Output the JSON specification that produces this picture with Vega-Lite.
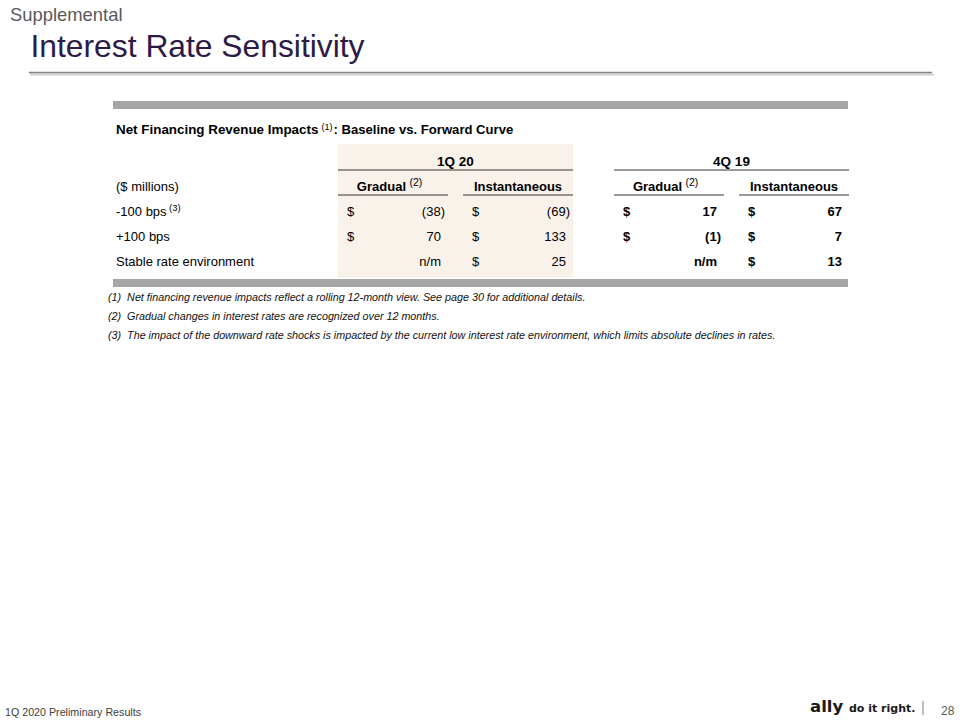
{
  "$schema": "https://vega.github.io/schema/vega-lite/v6.json",
  "width": 960,
  "height": 720,
  "padding": 0,
  "autosize": {"type": "none"},
  "background": "#ffffff",
  "config": {
    "view": {"stroke": null},
    "font": "Liberation Sans",
    "text": {"font": "Liberation Sans", "color": "#000000"}
  },
  "datasets": {
    "periods": [
      {"line": "period", "period": "1Q 20"},
      {"line": "period", "period": "4Q 19"}
    ],
    "columns": [
      {"line": "scenario", "period": "1Q 20", "scenario": "Gradual", "header": "Gradual", "note": "(2)"},
      {"line": "scenario", "period": "1Q 20", "scenario": "Instantaneous", "header": "Instantaneous", "note": null},
      {"line": "scenario", "period": "4Q 19", "scenario": "Gradual", "header": "Gradual", "note": "(2)"},
      {"line": "scenario", "period": "4Q 19", "scenario": "Instantaneous", "header": "Instantaneous", "note": null}
    ],
    "cells": [
      {"line": "-100 bps", "period": "1Q 20", "scenario": "Gradual", "value": -38},
      {"line": "-100 bps", "period": "1Q 20", "scenario": "Instantaneous", "value": -69},
      {"line": "-100 bps", "period": "4Q 19", "scenario": "Gradual", "value": 17},
      {"line": "-100 bps", "period": "4Q 19", "scenario": "Instantaneous", "value": 67},
      {"line": "+100 bps", "period": "1Q 20", "scenario": "Gradual", "value": 70},
      {"line": "+100 bps", "period": "1Q 20", "scenario": "Instantaneous", "value": 133},
      {"line": "+100 bps", "period": "4Q 19", "scenario": "Gradual", "value": -1},
      {"line": "+100 bps", "period": "4Q 19", "scenario": "Instantaneous", "value": 7},
      {"line": "Stable rate environment", "period": "1Q 20", "scenario": "Gradual", "value": null},
      {"line": "Stable rate environment", "period": "1Q 20", "scenario": "Instantaneous", "value": 25},
      {"line": "Stable rate environment", "period": "4Q 19", "scenario": "Gradual", "value": null},
      {"line": "Stable rate environment", "period": "4Q 19", "scenario": "Instantaneous", "value": 13}
    ],
    "rowLabels": [
      {"line": "scenario", "label": "($ millions)", "note": null},
      {"line": "-100 bps", "label": "-100 bps", "note": "(3)"},
      {"line": "+100 bps", "label": "+100 bps", "note": null},
      {"line": "Stable rate environment", "label": "Stable rate environment", "note": null}
    ],
    "tableTitle": [
      {"part": "table title", "lead": "Net Financing Revenue Impacts", "note": "(1)", "rest": ": Baseline vs. Forward Curve"}
    ],
    "notes": [
      {"note": 1, "text": "(1)\u00a0 Net financing revenue impacts reflect a rolling 12-month view. See page 30 for additional details."},
      {"note": 2, "text": "(2)\u00a0 Gradual changes in interest rates are recognized over 12 months."},
      {"note": 3, "text": "(3)\u00a0 The impact of the downward rate shocks is impacted by the current low interest rate environment, which limits absolute declines in rates."}
    ]
  },
  "resolve": {"scale": {"x": "independent", "y": "independent"}},
  "layer": [
    {
      "data": {"values": [{"period": "1Q 20", "region": "body"}]},
      "mark": {"type": "rect", "color": "#F8F2EB"},
      "encoding": {
        "x": {"field": "period", "type": "nominal", "scale": {"type": "band", "domain": ["1Q 20", "4Q 19"], "range": [338, 849], "paddingInner": 0.1486, "paddingOuter": 0}, "axis": null},
        "y": {"field": "region", "type": "nominal", "scale": {"type": "band", "domain": ["body"], "range": [144, 278], "paddingInner": 0, "paddingOuter": 0}, "axis": null}
      }
    },
    {
      "data": {"values": [{"bar": "top", "span": "table"}, {"bar": "bottom", "span": "table"}]},
      "mark": {"type": "rect", "color": "#A6A6A6"},
      "encoding": {
        "x": {"field": "span", "type": "nominal", "scale": {"type": "band", "domain": ["table"], "range": [113, 848], "paddingInner": 0, "paddingOuter": 0}, "axis": null},
        "y": {"field": "bar", "type": "nominal", "scale": {"type": "band", "domain": ["top", "bottom"], "range": [101, 287], "paddingInner": 0.955, "paddingOuter": 0}, "axis": null}
      }
    },
    {
      "layer": [
        {
          "data": {"name": "periods"},
          "mark": {"type": "tick", "orient": "horizontal", "size": 235, "thickness": 1.5, "color": "#404040"},
          "encoding": {
            "x": {"field": "period", "type": "nominal", "scale": {"type": "band", "domain": ["1Q 20", "4Q 19"], "range": [338, 849], "paddingInner": 0.1486, "paddingOuter": 0}, "axis": null},
            "y": {"field": "line", "type": "nominal", "bandPosition": 0.82, "scale": {"type": "band", "domain": ["period", "scenario", "-100 bps", "+100 bps", "Stable rate environment"], "range": [149.5, 274.5], "paddingInner": 0, "paddingOuter": 0}, "axis": null}
          }
        },
        {
          "data": {"name": "periods"},
          "mark": {"type": "text", "fontSize": 13.5, "fontWeight": "bold"},
          "encoding": {
            "x": {"field": "period", "type": "nominal", "scale": {"type": "band", "domain": ["1Q 20", "4Q 19"], "range": [338, 849], "paddingInner": 0.1486, "paddingOuter": 0}, "axis": null},
            "y": {"field": "line", "type": "nominal", "scale": {"type": "band", "domain": ["period", "scenario", "-100 bps", "+100 bps", "Stable rate environment"], "range": [149.5, 274.5], "paddingInner": 0, "paddingOuter": 0}, "axis": null},
            "text": {"field": "period"}
          }
        },
        {
          "data": {"name": "columns"},
          "mark": {"type": "tick", "orient": "horizontal", "size": 110, "thickness": 1.5, "color": "#404040"},
          "encoding": {
            "x": {"field": "period", "type": "nominal", "scale": {"type": "band", "domain": ["1Q 20", "4Q 19"], "range": [338, 849], "paddingInner": 0.1486, "paddingOuter": 0}, "axis": null},
            "xOffset": {"field": "scenario", "type": "nominal", "scale": {"type": "band", "domain": ["Gradual", "Instantaneous"], "paddingInner": 0.12, "paddingOuter": 0}},
            "y": {"field": "line", "type": "nominal", "bandPosition": 0.82, "scale": {"type": "band", "domain": ["period", "scenario", "-100 bps", "+100 bps", "Stable rate environment"], "range": [149.5, 274.5], "paddingInner": 0, "paddingOuter": 0}, "axis": null}
          }
        },
        {
          "data": {"name": "columns"},
          "transform": [{"filter": "!isValid(datum.note)"}],
          "mark": {"type": "text", "fontSize": 13, "fontWeight": "bold"},
          "encoding": {
            "x": {"field": "period", "type": "nominal", "scale": {"type": "band", "domain": ["1Q 20", "4Q 19"], "range": [338, 849], "paddingInner": 0.1486, "paddingOuter": 0}, "axis": null},
            "xOffset": {"field": "scenario", "type": "nominal", "scale": {"type": "band", "domain": ["Gradual", "Instantaneous"], "paddingInner": 0.12, "paddingOuter": 0}},
            "y": {"field": "line", "type": "nominal", "scale": {"type": "band", "domain": ["period", "scenario", "-100 bps", "+100 bps", "Stable rate environment"], "range": [149.5, 274.5], "paddingInner": 0, "paddingOuter": 0}, "axis": null},
            "text": {"field": "header"}
          }
        },
        {
          "data": {"name": "columns"},
          "transform": [{"filter": "isValid(datum.note)"}],
          "mark": {"type": "text", "fontSize": 13, "fontWeight": "bold", "align": "right", "dx": 13},
          "encoding": {
            "x": {"field": "period", "type": "nominal", "scale": {"type": "band", "domain": ["1Q 20", "4Q 19"], "range": [338, 849], "paddingInner": 0.1486, "paddingOuter": 0}, "axis": null},
            "xOffset": {"field": "scenario", "type": "nominal", "scale": {"type": "band", "domain": ["Gradual", "Instantaneous"], "paddingInner": 0.12, "paddingOuter": 0}},
            "y": {"field": "line", "type": "nominal", "scale": {"type": "band", "domain": ["period", "scenario", "-100 bps", "+100 bps", "Stable rate environment"], "range": [149.5, 274.5], "paddingInner": 0, "paddingOuter": 0}, "axis": null},
            "text": {"field": "header"}
          }
        },
        {
          "data": {"name": "columns"},
          "transform": [{"filter": "isValid(datum.note)"}],
          "mark": {"type": "text", "fontSize": 10.5, "align": "left", "dx": 16.5, "dy": -4},
          "encoding": {
            "x": {"field": "period", "type": "nominal", "scale": {"type": "band", "domain": ["1Q 20", "4Q 19"], "range": [338, 849], "paddingInner": 0.1486, "paddingOuter": 0}, "axis": null},
            "xOffset": {"field": "scenario", "type": "nominal", "scale": {"type": "band", "domain": ["Gradual", "Instantaneous"], "paddingInner": 0.12, "paddingOuter": 0}},
            "y": {"field": "line", "type": "nominal", "scale": {"type": "band", "domain": ["period", "scenario", "-100 bps", "+100 bps", "Stable rate environment"], "range": [149.5, 274.5], "paddingInner": 0, "paddingOuter": 0}, "axis": null},
            "text": {"field": "note"}
          }
        },
        {
          "data": {"name": "cells"},
          "transform": [{"filter": "datum.period === '1Q 20' && isValid(datum.value)"}],
          "mark": {"type": "text", "fontSize": 13, "align": "left", "dx": -46},
          "encoding": {
            "x": {"field": "period", "type": "nominal", "scale": {"type": "band", "domain": ["1Q 20", "4Q 19"], "range": [338, 849], "paddingInner": 0.1486, "paddingOuter": 0}, "axis": null},
            "xOffset": {"field": "scenario", "type": "nominal", "scale": {"type": "band", "domain": ["Gradual", "Instantaneous"], "paddingInner": 0.12, "paddingOuter": 0}},
            "y": {"field": "line", "type": "nominal", "scale": {"type": "band", "domain": ["period", "scenario", "-100 bps", "+100 bps", "Stable rate environment"], "range": [149.5, 274.5], "paddingInner": 0, "paddingOuter": 0}, "axis": null},
            "text": {"value": "$"}
          }
        },
        {
          "data": {"name": "cells"},
          "transform": [{"filter": "datum.period === '4Q 19' && isValid(datum.value)"}],
          "mark": {"type": "text", "fontSize": 13, "fontWeight": "bold", "align": "left", "dx": -46},
          "encoding": {
            "x": {"field": "period", "type": "nominal", "scale": {"type": "band", "domain": ["1Q 20", "4Q 19"], "range": [338, 849], "paddingInner": 0.1486, "paddingOuter": 0}, "axis": null},
            "xOffset": {"field": "scenario", "type": "nominal", "scale": {"type": "band", "domain": ["Gradual", "Instantaneous"], "paddingInner": 0.12, "paddingOuter": 0}},
            "y": {"field": "line", "type": "nominal", "scale": {"type": "band", "domain": ["period", "scenario", "-100 bps", "+100 bps", "Stable rate environment"], "range": [149.5, 274.5], "paddingInner": 0, "paddingOuter": 0}, "axis": null},
            "text": {"value": "$"}
          }
        },
        {
          "data": {"name": "cells"},
          "transform": [{"filter": "datum.period === '1Q 20' && isValid(datum.value) && datum.value >= 0"}],
          "mark": {"type": "text", "fontSize": 13, "align": "right", "dx": 48},
          "encoding": {
            "x": {"field": "period", "type": "nominal", "scale": {"type": "band", "domain": ["1Q 20", "4Q 19"], "range": [338, 849], "paddingInner": 0.1486, "paddingOuter": 0}, "axis": null},
            "xOffset": {"field": "scenario", "type": "nominal", "scale": {"type": "band", "domain": ["Gradual", "Instantaneous"], "paddingInner": 0.12, "paddingOuter": 0}},
            "y": {"field": "line", "type": "nominal", "scale": {"type": "band", "domain": ["period", "scenario", "-100 bps", "+100 bps", "Stable rate environment"], "range": [149.5, 274.5], "paddingInner": 0, "paddingOuter": 0}, "axis": null},
            "text": {"field": "value", "type": "quantitative", "format": "(.0f"}
          }
        },
        {
          "data": {"name": "cells"},
          "transform": [{"filter": "datum.period === '1Q 20' && isValid(datum.value) && datum.value < 0"}],
          "mark": {"type": "text", "fontSize": 13, "align": "right", "dx": 52},
          "encoding": {
            "x": {"field": "period", "type": "nominal", "scale": {"type": "band", "domain": ["1Q 20", "4Q 19"], "range": [338, 849], "paddingInner": 0.1486, "paddingOuter": 0}, "axis": null},
            "xOffset": {"field": "scenario", "type": "nominal", "scale": {"type": "band", "domain": ["Gradual", "Instantaneous"], "paddingInner": 0.12, "paddingOuter": 0}},
            "y": {"field": "line", "type": "nominal", "scale": {"type": "band", "domain": ["period", "scenario", "-100 bps", "+100 bps", "Stable rate environment"], "range": [149.5, 274.5], "paddingInner": 0, "paddingOuter": 0}, "axis": null},
            "text": {"field": "value", "type": "quantitative", "format": "(.0f"}
          }
        },
        {
          "data": {"name": "cells"},
          "transform": [{"filter": "datum.period === '1Q 20' && !isValid(datum.value)"}],
          "mark": {"type": "text", "fontSize": 13, "align": "right", "dx": 48},
          "encoding": {
            "x": {"field": "period", "type": "nominal", "scale": {"type": "band", "domain": ["1Q 20", "4Q 19"], "range": [338, 849], "paddingInner": 0.1486, "paddingOuter": 0}, "axis": null},
            "xOffset": {"field": "scenario", "type": "nominal", "scale": {"type": "band", "domain": ["Gradual", "Instantaneous"], "paddingInner": 0.12, "paddingOuter": 0}},
            "y": {"field": "line", "type": "nominal", "scale": {"type": "band", "domain": ["period", "scenario", "-100 bps", "+100 bps", "Stable rate environment"], "range": [149.5, 274.5], "paddingInner": 0, "paddingOuter": 0}, "axis": null},
            "text": {"value": "n/m"}
          }
        },
        {
          "data": {"name": "cells"},
          "transform": [{"filter": "datum.period === '4Q 19' && isValid(datum.value) && datum.value >= 0"}],
          "mark": {"type": "text", "fontSize": 13, "fontWeight": "bold", "align": "right", "dx": 48},
          "encoding": {
            "x": {"field": "period", "type": "nominal", "scale": {"type": "band", "domain": ["1Q 20", "4Q 19"], "range": [338, 849], "paddingInner": 0.1486, "paddingOuter": 0}, "axis": null},
            "xOffset": {"field": "scenario", "type": "nominal", "scale": {"type": "band", "domain": ["Gradual", "Instantaneous"], "paddingInner": 0.12, "paddingOuter": 0}},
            "y": {"field": "line", "type": "nominal", "scale": {"type": "band", "domain": ["period", "scenario", "-100 bps", "+100 bps", "Stable rate environment"], "range": [149.5, 274.5], "paddingInner": 0, "paddingOuter": 0}, "axis": null},
            "text": {"field": "value", "type": "quantitative", "format": "(.0f"}
          }
        },
        {
          "data": {"name": "cells"},
          "transform": [{"filter": "datum.period === '4Q 19' && isValid(datum.value) && datum.value < 0"}],
          "mark": {"type": "text", "fontSize": 13, "fontWeight": "bold", "align": "right", "dx": 52},
          "encoding": {
            "x": {"field": "period", "type": "nominal", "scale": {"type": "band", "domain": ["1Q 20", "4Q 19"], "range": [338, 849], "paddingInner": 0.1486, "paddingOuter": 0}, "axis": null},
            "xOffset": {"field": "scenario", "type": "nominal", "scale": {"type": "band", "domain": ["Gradual", "Instantaneous"], "paddingInner": 0.12, "paddingOuter": 0}},
            "y": {"field": "line", "type": "nominal", "scale": {"type": "band", "domain": ["period", "scenario", "-100 bps", "+100 bps", "Stable rate environment"], "range": [149.5, 274.5], "paddingInner": 0, "paddingOuter": 0}, "axis": null},
            "text": {"field": "value", "type": "quantitative", "format": "(.0f"}
          }
        },
        {
          "data": {"name": "cells"},
          "transform": [{"filter": "datum.period === '4Q 19' && !isValid(datum.value)"}],
          "mark": {"type": "text", "fontSize": 13, "fontWeight": "bold", "align": "right", "dx": 48},
          "encoding": {
            "x": {"field": "period", "type": "nominal", "scale": {"type": "band", "domain": ["1Q 20", "4Q 19"], "range": [338, 849], "paddingInner": 0.1486, "paddingOuter": 0}, "axis": null},
            "xOffset": {"field": "scenario", "type": "nominal", "scale": {"type": "band", "domain": ["Gradual", "Instantaneous"], "paddingInner": 0.12, "paddingOuter": 0}},
            "y": {"field": "line", "type": "nominal", "scale": {"type": "band", "domain": ["period", "scenario", "-100 bps", "+100 bps", "Stable rate environment"], "range": [149.5, 274.5], "paddingInner": 0, "paddingOuter": 0}, "axis": null},
            "text": {"value": "n/m"}
          }
        }
      ]
    },
    {
      "layer": [
        {
          "mark": {"type": "text", "fontSize": 13, "align": "left"},
          "encoding": {"text": {"field": "label"}}
        },
        {
          "transform": [{"filter": "isValid(datum.note)"}],
          "mark": {"type": "text", "fontSize": 9.5, "align": "left", "dx": 53, "dy": -4},
          "encoding": {"text": {"field": "note"}}
        }
      ],
      "data": {"name": "rowLabels"},
      "encoding": {
        "x": {"datum": "label column", "type": "nominal", "scale": {"type": "point", "domain": ["label column"], "range": [116, 116]}, "axis": null},
        "y": {"field": "line", "type": "nominal", "scale": {"type": "band", "domain": ["period", "scenario", "-100 bps", "+100 bps", "Stable rate environment"], "range": [149.5, 274.5], "paddingInner": 0, "paddingOuter": 0}, "axis": null}
      }
    },
    {
      "layer": [
        {
          "mark": {"type": "text", "fontSize": 13.4, "fontWeight": "bold", "align": "left"},
          "encoding": {"text": {"field": "lead"}}
        },
        {
          "mark": {"type": "text", "fontSize": 9, "align": "left", "dx": 205.5, "dy": -3.5},
          "encoding": {"text": {"field": "note"}}
        },
        {
          "mark": {"type": "text", "fontSize": 13.1, "fontWeight": "bold", "align": "left", "dx": 217.5},
          "encoding": {"text": {"field": "rest"}}
        }
      ],
      "data": {"name": "tableTitle"},
      "encoding": {
        "x": {"datum": "label column", "type": "nominal", "scale": {"type": "point", "domain": ["label column"], "range": [116, 116]}, "axis": null},
        "y": {"field": "part", "type": "nominal", "scale": {"type": "point", "domain": ["table title"], "range": [130, 130]}, "axis": null}
      }
    },
    {
      "data": {"name": "notes"},
      "mark": {"type": "text", "fontSize": 10.75, "fontStyle": "italic", "align": "left", "color": "#111111"},
      "encoding": {
        "x": {"datum": "note column", "type": "nominal", "scale": {"type": "point", "domain": ["note column"], "range": [108, 108]}, "axis": null},
        "y": {"field": "note", "type": "quantitative", "scale": {"domain": [1, 3], "range": [298.3, 335.7], "zero": false, "nice": false}, "axis": null},
        "text": {"field": "text"}
      }
    },
    {
      "data": {"values": [{"part": "kicker", "text": "Supplemental"}]},
      "mark": {"type": "text", "fontSize": 18.4, "align": "left", "baseline": "alphabetic", "color": "#595959"},
      "encoding": {
        "x": {"field": "part", "type": "nominal", "scale": {"type": "point", "domain": ["kicker"], "range": [10, 10]}, "axis": null},
        "y": {"field": "part", "type": "nominal", "scale": {"type": "point", "domain": ["kicker"], "range": [20.7, 20.7]}, "axis": null},
        "text": {"field": "text"}
      }
    },
    {
      "data": {"values": [{"part": "slide title", "text": "Interest Rate Sensitivity"}]},
      "mark": {"type": "text", "fontSize": 31.8, "align": "left", "baseline": "alphabetic", "color": "#2E1A47"},
      "encoding": {
        "x": {"field": "part", "type": "nominal", "scale": {"type": "point", "domain": ["slide title"], "range": [30.5, 30.5]}, "axis": null},
        "y": {"field": "part", "type": "nominal", "scale": {"type": "point", "domain": ["slide title"], "range": [57.3, 57.3]}, "axis": null},
        "text": {"field": "text"}
      }
    },
    {
      "data": {"values": [{"part": "title rule shadow"}]},
      "mark": {"type": "rule", "color": "#D0D0D0", "strokeWidth": 2},
      "encoding": {
        "x": {"datum": 0, "type": "quantitative", "scale": {"domain": [0, 1], "range": [30, 934], "zero": false, "nice": false}, "axis": null},
        "x2": {"datum": 1},
        "y": {"datum": 0, "type": "quantitative", "scale": {"domain": [0, 1], "range": [74.5, 74.5], "zero": false, "nice": false}, "axis": null}
      }
    },
    {
      "data": {"values": [{"part": "title rule"}]},
      "mark": {"type": "rule", "color": "#7F7F7F", "strokeWidth": 1.6},
      "encoding": {
        "x": {"datum": 0, "type": "quantitative", "scale": {"domain": [0, 1], "range": [29, 932], "zero": false, "nice": false}, "axis": null},
        "x2": {"datum": 1},
        "y": {"datum": 0, "type": "quantitative", "scale": {"domain": [0, 1], "range": [72.5, 72.5], "zero": false, "nice": false}, "axis": null}
      }
    },
    {
      "data": {"values": [{"part": "footer", "text": "1Q 2020 Preliminary Results"}]},
      "mark": {"type": "text", "fontSize": 10.7, "align": "left", "color": "#404040"},
      "encoding": {
        "x": {"field": "part", "type": "nominal", "scale": {"type": "point", "domain": ["footer"], "range": [5, 5]}, "axis": null},
        "y": {"field": "part", "type": "nominal", "scale": {"type": "point", "domain": ["footer"], "range": [712.5, 712.5]}, "axis": null},
        "text": {"field": "text"}
      }
    },
    {
      "data": {"values": [{"part": "brand", "text": "ally"}]},
      "mark": {"type": "text", "font": "DejaVu Sans", "fontWeight": "bold", "fontSize": 16.5, "align": "left", "baseline": "alphabetic", "color": "#1A1A1A"},
      "encoding": {
        "x": {"field": "part", "type": "nominal", "scale": {"type": "point", "domain": ["brand"], "range": [810, 810]}, "axis": null},
        "y": {"field": "part", "type": "nominal", "scale": {"type": "point", "domain": ["brand"], "range": [712, 712]}, "axis": null},
        "text": {"field": "text"}
      }
    },
    {
      "data": {"values": [{"part": "tagline", "text": "do it right."}]},
      "mark": {"type": "text", "font": "DejaVu Sans", "fontWeight": "bold", "fontSize": 11, "align": "left", "baseline": "alphabetic", "color": "#1A1A1A"},
      "encoding": {
        "x": {"field": "part", "type": "nominal", "scale": {"type": "point", "domain": ["tagline"], "range": [849, 849]}, "axis": null},
        "y": {"field": "part", "type": "nominal", "scale": {"type": "point", "domain": ["tagline"], "range": [712, 712]}, "axis": null},
        "text": {"field": "text"}
      }
    },
    {
      "data": {"values": [{"part": "separator"}]},
      "mark": {"type": "rule", "color": "#7F7F7F", "strokeWidth": 1},
      "encoding": {
        "x": {"datum": 0, "type": "quantitative", "scale": {"domain": [0, 1], "range": [923, 923], "zero": false, "nice": false}, "axis": null},
        "y": {"datum": 0, "type": "quantitative", "scale": {"domain": [0, 1], "range": [701, 715], "zero": false, "nice": false}, "axis": null},
        "y2": {"datum": 1}
      }
    },
    {
      "data": {"values": [{"part": "page", "text": "28"}]},
      "mark": {"type": "text", "fontSize": 12, "align": "left", "color": "#595959"},
      "encoding": {
        "x": {"field": "part", "type": "nominal", "scale": {"type": "point", "domain": ["page"], "range": [941, 941]}, "axis": null},
        "y": {"field": "part", "type": "nominal", "scale": {"type": "point", "domain": ["page"], "range": [710.5, 710.5]}, "axis": null},
        "text": {"field": "text"}
      }
    }
  ]
}
